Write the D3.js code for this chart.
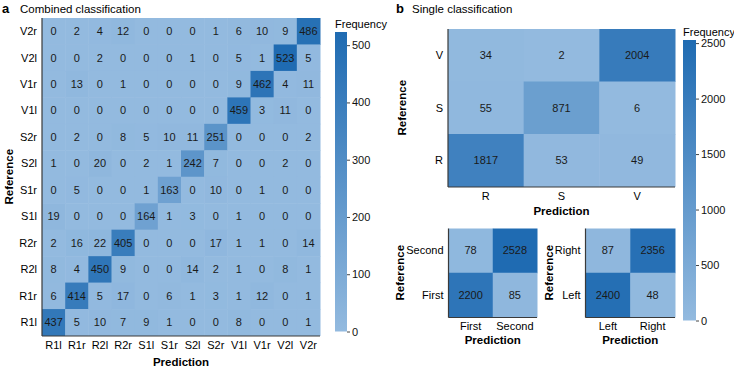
<!DOCTYPE html>
<html>
<head>
<meta charset="utf-8">
<script src="https://cdn.jsdelivr.net/npm/d3@7"></script>
<style>
  body { margin: 0; background: #fff; }
  svg { font-family: "Liberation Sans", Arial, sans-serif; }
  .axis-label { font-weight: bold; font-size: 11.5px; }
</style>
</head>
<body>
<div id="chart"></div>
<script>
// Combined classification (panel a), rows listed top to bottom
const combinedLabels = ["R1l", "R1r", "R2l", "R2r", "S1l", "S1r", "S2l", "S2r", "V1l", "V1r", "V2l", "V2r"];
const combinedRowsTopDown = ["V2r", "V2l", "V1r", "V1l", "S2r", "S2l", "S1r", "S1l", "R2r", "R2l", "R1r", "R1l"];
const combinedValues = [
    [0, 2, 4, 12, 0, 0, 0, 1, 6, 10, 9, 486],
    [0, 0, 2, 0, 0, 0, 1, 0, 5, 1, 523, 5],
    [0, 13, 0, 1, 0, 0, 0, 0, 9, 462, 4, 11],
    [0, 0, 0, 0, 0, 0, 0, 0, 459, 3, 11, 0],
    [0, 2, 0, 8, 5, 10, 11, 251, 0, 0, 0, 2],
    [1, 0, 20, 0, 2, 1, 242, 7, 0, 0, 2, 0],
    [0, 5, 0, 0, 1, 163, 0, 10, 0, 1, 0, 0],
    [19, 0, 0, 0, 164, 1, 3, 0, 1, 0, 0, 0],
    [2, 16, 22, 405, 0, 0, 0, 17, 1, 1, 0, 14],
    [8, 4, 450, 9, 0, 0, 14, 2, 1, 0, 8, 1],
    [6, 414, 5, 17, 0, 6, 1, 3, 1, 12, 0, 1],
    [437, 5, 10, 7, 9, 1, 0, 0, 8, 0, 0, 1]
];
const combinedTicks = [0, 100, 200, 300, 400, 500];

// Single classification (panel b)
const singleLabels = ["R", "S", "V"];
const singleRowsTopDown = ["V", "S", "R"];
const singleValues = [
    [34, 2, 2004],
    [55, 871, 6],
    [1817, 53, 49]
];

const orderLabels = ["First", "Second"];
const orderRowsTopDown = ["Second", "First"];
const orderValues = [
    [78, 2528],
    [2200, 85]
];

const sideLabels = ["Left", "Right"];
const sideRowsTopDown = ["Right", "Left"];
const sideValues = [
    [87, 2356],
    [2400, 48]
];
const singleTicks = [0, 500, 1000, 1500, 2000, 2500];

const width = 734, height = 368;
const lightBlue = "#93badf", darkBlue = "#1f6bb2";

let svg = d3.select("#chart").append("svg")
    .attr("width", width)
    .attr("height", height);

// draws one confusion matrix into a box
function drawMatrix(box, cols, rowsTopDown, values, color, opts) {
    let x = d3.scaleBand().domain(cols).range([box.x0, box.x1]);
    let y = d3.scaleBand().domain(rowsTopDown).range([box.y0, box.y1]);

    let cells = [];
    rowsTopDown.forEach(function (r, i) {
        cols.forEach(function (c, j) {
            cells.push({row: r, col: c, value: values[i][j]});
        });
    });

    let g = svg.append("g");
    g.selectAll("rect").data(cells).enter().append("rect")
        .attr("x", d => x(d.col))
        .attr("y", d => y(d.row))
        .attr("width", x.bandwidth() + 0.5)
        .attr("height", y.bandwidth() + 0.5)
        .attr("fill", d => color(d.value));

    g.selectAll("text.val").data(cells).enter().append("text")
        .attr("class", "val")
        .attr("x", d => x(d.col) + x.bandwidth() / 2)
        .attr("y", d => y(d.row) + y.bandwidth() / 2)
        .attr("dy", "0.35em")
        .attr("text-anchor", "middle")
        .style("font-size", opts.valueSize + "px")
        .style("fill", "#1a1a1a")
        .text(d => d.value);

    // axis lines on left and bottom
    g.append("line")
        .attr("x1", box.x0).attr("x2", box.x0)
        .attr("y1", box.y0).attr("y2", box.y1 + 0.5)
        .attr("stroke", "#3a3a3a").attr("stroke-width", 1.2);
    g.append("line")
        .attr("x1", box.x0).attr("x2", box.x1)
        .attr("y1", box.y1 + 0.5).attr("y2", box.y1 + 0.5)
        .attr("stroke", "#3a3a3a").attr("stroke-width", 1.2);

    // tick labels
    g.selectAll("text.rowlab").data(rowsTopDown).enter().append("text")
        .attr("class", "rowlab")
        .attr("x", box.x0 - 5)
        .attr("y", d => y(d) + y.bandwidth() / 2)
        .attr("dy", "0.35em")
        .attr("text-anchor", "end")
        .style("font-size", opts.tickSize + "px")
        .text(d => d);
    g.selectAll("text.collab").data(cols).enter().append("text")
        .attr("class", "collab")
        .attr("x", d => x(d) + x.bandwidth() / 2)
        .attr("y", box.y1 + opts.colLabelOffset)
        .attr("text-anchor", "middle")
        .style("font-size", opts.tickSize + "px")
        .text(d => d);

    // axis titles
    g.append("text")
        .attr("class", "axis-label")
        .attr("x", (box.x0 + box.x1) / 2)
        .attr("y", box.y1 + opts.xTitleOffset)
        .attr("text-anchor", "middle")
        .text("Prediction");
    g.append("text")
        .attr("class", "axis-label")
        .attr("transform", "translate(" + opts.yTitleX + "," + (box.y0 + box.y1) / 2 + ") rotate(-90)")
        .attr("text-anchor", "middle")
        .text("Reference");
}

// vertical colour bar with ticks on the right
function drawColorbar(id, box, maxVal, ticks, color) {
    let grad = svg.append("defs").append("linearGradient")
        .attr("id", id)
        .attr("x1", "0%").attr("x2", "0%")
        .attr("y1", "100%").attr("y2", "0%");
    grad.append("stop").attr("offset", "0%").attr("stop-color", color(0));
    grad.append("stop").attr("offset", "100%").attr("stop-color", color(maxVal));

    svg.append("rect")
        .attr("x", box.x0).attr("y", box.y0)
        .attr("width", box.x1 - box.x0).attr("height", box.y1 - box.y0)
        .attr("fill", "url(#" + id + ")");

    let scale = d3.scaleLinear().domain([0, maxVal]).range([box.y1, box.y0]);
    let axis = svg.append("g")
        .attr("transform", "translate(" + box.x1 + ",0)")
        .call(d3.axisRight(scale).tickValues(ticks).tickFormat(d3.format("d")).tickSize(3).tickPadding(2));
    axis.select(".domain").remove();
    axis.selectAll(".tick line").attr("stroke", "#444");
    axis.selectAll(".tick text")
        .style("font-size", "11px")
        .style("font-family", "'Liberation Sans', Arial, sans-serif")
        .attr("fill", "#111");

    svg.append("text")
        .attr("x", box.x0)
        .attr("y", box.y0 - 4)
        .style("font-size", "11px")
        .text("Frequency");
}

// ---------- panel a ----------
let maxA = d3.max(combinedValues, r => d3.max(r));
let colorA = d3.scaleLinear().domain([0, maxA]).range([lightBlue, darkBlue]).interpolate(d3.interpolateRgb);

svg.append("text").attr("x", 2).attr("y", 13)
    .style("font-weight", "bold").style("font-size", "13px").text("a");
svg.append("text").attr("x", 20).attr("y", 13)
    .style("font-size", "11.5px").text("Combined classification");

drawMatrix({x0: 42, x1: 320, y0: 18, y1: 335.5}, combinedLabels, combinedRowsTopDown, combinedValues, colorA,
    {valueSize: 11, tickSize: 11, colLabelOffset: 13, xTitleOffset: 30, yTitleX: 12.5});

drawColorbar("gradA", {x0: 335, x1: 347, y0: 32, y1: 331.5}, maxA, combinedTicks, colorA);

// ---------- panel b ----------
let maxB = d3.max([singleValues, orderValues, sideValues], m => d3.max(m, r => d3.max(r)));
let colorB = d3.scaleLinear().domain([0, maxB]).range([lightBlue, darkBlue]).interpolate(d3.interpolateRgb);

svg.append("text").attr("x", 396).attr("y", 13)
    .style("font-weight", "bold").style("font-size", "13px").text("b");
svg.append("text").attr("x", 412).attr("y", 13)
    .style("font-size", "11.5px").text("Single classification");

drawMatrix({x0: 448, x1: 675, y0: 29, y1: 186.5}, singleLabels, singleRowsTopDown, singleValues, colorB,
    {valueSize: 11, tickSize: 11, colLabelOffset: 13, xTitleOffset: 28, yTitleX: 406});

drawMatrix({x0: 448.5, x1: 537, y0: 228.5, y1: 317}, orderLabels, orderRowsTopDown, orderValues, colorB,
    {valueSize: 11, tickSize: 11, colLabelOffset: 13, xTitleOffset: 27, yTitleX: 403.5});

drawMatrix({x0: 585.5, x1: 675, y0: 228.5, y1: 317}, sideLabels, sideRowsTopDown, sideValues, colorB,
    {valueSize: 11, tickSize: 11, colLabelOffset: 13, xTitleOffset: 27, yTitleX: 552.5});

drawColorbar("gradB", {x0: 683, x1: 696, y0: 40, y1: 320.5}, maxB, singleTicks, colorB);
</script>
</body>
</html>
